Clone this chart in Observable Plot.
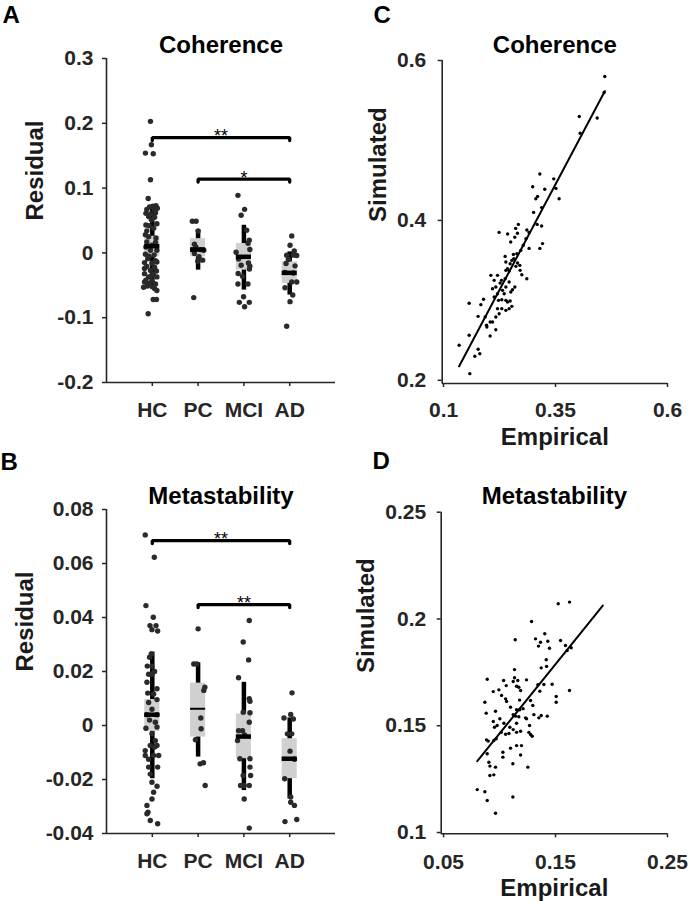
<!DOCTYPE html>
<html><head><meta charset="utf-8">
<script src="https://cdn.jsdelivr.net/npm/d3@7"></script>
<script src="https://cdn.jsdelivr.net/npm/@observablehq/plot@0.6"></script>
<style>
body{margin:0;background:#fff;}
#fig{position:relative;width:688px;height:901px;overflow:hidden;}
.panel{position:absolute;}
</style></head><body><div id="fig"></div>
<script>
const groups = ["HC", "PC", "MCI", "AD"];

// ---- Panel A: coherence residuals, [offset from group centre (group units), residual]
const cohHC = [[-0.04,0.203],[-0.02,0.167],[-0.15,0.154],[0.02,0.153],[-0.04,0.113],[-0.09,0.084],
 [-0.06,0.071],[0.01,0.072],[0.08,0.073],[0.11,0.069],[-0.12,0.067],[0.04,0.067],
 [0.07,0.062],[-0.14,0.061],[-0.04,0.06],[-0.08,0.056],[0.05,0.055],[-0.02,0.051],
 [0.10,0.045],[-0.14,0.043],[-0.07,0.042],[0.03,0.038],[-0.12,0.034],[-0.15,0.028],
 [-0.08,0.025],[0.08,0.023],[-0.12,0.017],[0.07,0.016],[-0.01,0.012],[-0.14,0.009],
 [-0.04,0.004],[0.10,0.004],[-0.07,-0.005],[-0.15,-0.002],[0.04,-0.003],[-0.10,-0.009],
 [0.07,-0.012],[-0.17,-0.015],[-0.01,-0.016],[0.10,-0.014],[-0.12,-0.021],[0.05,-0.022],
 [-0.17,-0.024],[-0.04,-0.027],[0.09,-0.028],[-0.17,-0.032],[0.02,-0.033],[-0.02,-0.035],
 [-0.08,-0.037],[0.10,-0.037],[-0.14,-0.042],[-0.01,-0.043],[-0.17,-0.045],[-0.07,-0.047],
 [0.07,-0.048],[-0.19,-0.053],[-0.11,-0.051],[-0.01,-0.052],[0.05,-0.055],[0.10,-0.058],
 [0.02,-0.072],[0.09,-0.072],[-0.09,-0.094]];
const cohPC = [[-0.125,0.0488],[-0.044,0.0488],[0,0.0338],[-0.08,0.0134],[-0.05,0.0093],[-0.117,0.005],
 [0.066,0.005],[0.125,0.004],[-0.08,-0.001],[0.02,-0.006],[0.10,-0.0112],[-0.007,-0.013],[-0.095,-0.069]];
const cohMCI = [[-0.13,0.0888],[0.015,0.0672],[-0.06,0.058],[0.06,0.0349],[0.117,0.0195],[0.09,0.015],
 [0.13,0.0052],[-0.17,0.001],[-0.117,-0.0093],[0.10,-0.0154],[-0.06,-0.019],[0.13,-0.0205],[0.12,-0.025],
 [-0.125,-0.0317],[-0.03,-0.036],[-0.13,-0.048],[0.088,-0.048],[-0.007,-0.0677],[-0.10,-0.0763],
 [0.117,-0.0763],[0.015,-0.083]];
const cohAD = [[0.044,0.0262],[0.007,0.0118],[0.10,0.003],[-0.066,-0.0035],[0.08,-0.0035],[0.154,-0.004],
 [-0.03,-0.01],[-0.08,-0.0164],[0.117,-0.02],[-0.103,-0.03],[0.08,-0.031],[0.044,-0.0448],[0.154,-0.0448],
 [-0.103,-0.0538],[0.066,-0.065],[0.007,-0.0752],[-0.066,-0.1132]];
const cohMean = [0.0103, 0.0052, -0.006, -0.0308];
const cohBoxLo = [-0.006, -0.006, -0.0266, -0.047];
const cohBoxHi = [0.0257, 0.022, 0.0145, -0.0138];
const cohSdLo = [-0.052, -0.0266, -0.0574, -0.0651];
const cohSdHi = [0.0708, 0.0355, 0.0426, 0.0016];
const cohSigFrom = ["HC", "PC"], cohSigTo = ["AD", "AD"], cohSigY = [0.178, 0.114], cohSigLabel = ["**", "*"];
const cohYTicks = [-0.2, -0.1, 0, 0.1, 0.2, 0.3];

// ---- Panel B: metastability residuals
const metaHC = [[-0.154,0.0706],[0.044,0.0623],[-0.139,0.0444],[0.022,0.0401],[-0.051,0.037],[-0.007,0.0355],
 [0.081,0.037],[0.117,0.035],[-0.022,0.0265],[-0.059,0.0253],[-0.11,0.022],[-0.007,0.022],[-0.08,0.019],
 [0.05,0.020],[-0.007,0.019],[-0.117,0.016],[0.103,0.0136],[-0.10,0.012],[0.029,0.0117],[0.103,0.0096],
 [-0.08,0.0085],[-0.007,0.006],[-0.117,0.004],[0.103,0.004],[-0.06,0.002],[0.066,0.0012],[0.103,-0.0006],
 [-0.139,-0.001],[-0.007,-0.003],[0.066,-0.0056],[-0.044,-0.0074],[0.103,-0.0074],[0.05,-0.008],
 [-0.154,-0.0093],[0.029,-0.0111],[-0.154,-0.0111],[0.139,-0.0111],[-0.08,-0.0125],[-0.08,-0.0154],
 [0.117,-0.0154],[-0.044,-0.018],[-0.007,-0.021],[0.103,-0.0225],[0.029,-0.0247],[-0.007,-0.0272],
 [-0.117,-0.0296],[-0.095,-0.0321],[-0.117,-0.0327],[-0.044,-0.0352],[0.117,-0.0364]];
const metaPC = [[0,0.0358],[-0.095,0.0228],[-0.03,0.0228],[0.147,0.0142],[0.125,0.013],[0.059,0.0028],
 [0.066,-0.0012],[-0.059,-0.0053],[0.044,-0.0142],[0.117,-0.0138],[0.154,-0.0222]];
const metaMCI = [[0.117,0.0389],[-0.015,0.0309],[0.103,0.0243],[-0.117,0.0177],[0.117,0.0099],[0.132,0.009],
 [-0.015,0.0049],[0.132,0.0047],[0.117,0.0012],[-0.117,-0.0019],[-0.03,-0.0019],[0.015,-0.0035],
 [-0.139,-0.0056],[-0.088,-0.0123],[0.132,-0.0123],[0.132,-0.0154],[-0.015,-0.0185],[0.147,-0.0185],
 [-0.073,-0.0222],[0.007,-0.0222],[0.117,-0.0222],[0.007,-0.0272],[0.117,-0.038]];
const metaAD = [[0.051,0.0121],[0.022,0.0041],[-0.125,0.0028],[0.08,0.0024],[-0.051,-0.0031],[0.044,-0.0031],
 [0.007,-0.0095],[0.103,-0.0125],[-0.11,-0.0197],[0.022,-0.0265],[0.022,-0.0284],[0.103,-0.0296],
 [-0.103,-0.0356],[0.154,-0.0348]];
const metaMean = [0.004, 0.0062, -0.0041, -0.0123];
const metaBoxLo = [-0.0022, -0.0043, -0.0123, -0.0197];
const metaBoxHi = [0.0096, 0.0157, 0.0043, -0.0049];
const metaSdLo = [-0.0197, -0.0117, -0.0241, -0.0272];
const metaSdHi = [0.0272, 0.0232, 0.016, 0.0028];
const metaSigFrom = ["HC", "PC"], metaSigTo = ["AD", "AD"], metaSigY = [0.0685, 0.0448], metaSigLabel = ["**", "**"];
const metaYTicks = [-0.04, -0.02, 0, 0.02, 0.04, 0.06, 0.08];

// ---- Panel C: coherence, [empirical, simulated]
const cohScatter = [[0.460,0.580],[0.4585,0.560],[0.403,0.530],[0.443,0.528],[0.405,0.509],
 [0.315,0.458],[0.346,0.452],[0.299,0.442],[0.326,0.439],[0.351,0.440],[0.358,0.427],[0.310,0.430],[0.306,0.427],[0.319,0.416],[0.301,0.410],
 [0.309,0.395],[0.319,0.393],[0.267,0.395],[0.261,0.390],[0.265,0.384],[0.224,0.385],[0.243,0.383],[0.286,0.388],[0.291,0.385],
 [0.259,0.379],[0.250,0.373],[0.284,0.377],[0.278,0.369],[0.321,0.371],[0.315,0.365],[0.291,0.365],[0.2725,0.3625],
 [0.256,0.3575],[0.2636,0.3583],[0.2375,0.355],[0.2525,0.350],[0.2487,0.3458],[0.2652,0.3467],[0.2703,0.3438],[0.2614,0.3425],
 [0.2429,0.3396],[0.2464,0.3367],[0.2391,0.3375],[0.271,0.3375],[0.2748,0.3321],[0.2391,0.3479],[0.2569,0.3521],
 [0.2056,0.3313],[0.213,0.325],[0.2205,0.3313],[0.2263,0.3216],[0.2859,0.3271],[0.2294,0.325],[0.2375,0.3271],[0.2464,0.3229],
 [0.2094,0.3146],[0.2167,0.3167],[0.2391,0.3167],[0.2317,0.3125],[0.254,0.3133],[0.2592,0.3167],[0.2502,0.3104],[0.2205,0.3083],[0.2354,0.3083],
 [0.213,0.3042],[0.2228,0.300],[0.2301,0.3008],[0.2391,0.300],[0.2429,0.2979],[0.2487,0.2992],
 [0.2525,0.2925],[0.2464,0.2896],[0.2391,0.2875],[0.2301,0.2896],[0.2205,0.2896],[0.2241,0.2833],[0.2167,0.2792],
 [0.1833,0.2946],[0.1893,0.3013],[0.1572,0.2963],[0.1929,0.2792],[0.1772,0.280],
 [0.196,0.2688],[0.204,0.2729],[0.2094,0.2729],[0.1967,0.2667],[0.2167,0.2633],[0.204,0.2554],[0.1572,0.2563],
 [0.1348,0.2438],[0.1772,0.2388],[0.181,0.2333],[0.1699,0.230],[0.1587,0.2083]];
const cohFitX = [0.1348, 0.46], cohFitY = [0.2175, 0.5616];
const cohEmpTicks = [0.1, 0.35, 0.6], cohSimTicks = [0.2, 0.4, 0.6];

// ---- Panel D: metastability, [empirical, simulated]
const metaScatter = [[0.1524,0.2071],[0.1625,0.2079],[0.1286,0.1988],[0.114,0.1903],[0.1404,0.1931],[0.1321,0.1907],[0.1366,0.1891],[0.1431,0.1896],[0.1348,0.1873],[0.1446,0.1863],[0.1545,0.1899],[0.1589,0.1876],[0.164,0.1865],[0.1604,0.1852],
 [0.1417,0.1809],[0.142,0.1778],[0.1372,0.1771],[0.1134,0.1763],[0.089,0.1718],[0.1036,0.1712],[0.1134,0.1725],[0.1163,0.1712],[0.1122,0.1707],[0.1241,0.1715],
 [0.0994,0.1668],[0.0944,0.166],[0.106,0.1688],[0.1152,0.1685],[0.1188,0.1665],[0.1172,0.168],
 [0.1342,0.1692],[0.1396,0.1693],[0.136,0.1662],[0.147,0.1694],
 [0.1018,0.1642],[0.1054,0.1626],[0.1063,0.1614],[0.0869,0.161],[0.1179,0.162],[0.1277,0.1618],[0.1297,0.1595],[0.1506,0.1637],[0.1506,0.161],[0.1625,0.1665],
 [0.1098,0.1587],[0.0964,0.1568],[0.0881,0.1559],[0.1152,0.1575],[0.118,0.1575],[0.121,0.158],
 [0.1122,0.1552],[0.1143,0.1545],[0.1172,0.1542],[0.1232,0.1537],
 [0.1307,0.1552],[0.1372,0.1548],[0.1351,0.1537],[0.1426,0.1545],
 [0.0944,0.152],[0.1003,0.1533],[0.1039,0.1512],[0.0979,0.1501],[0.0955,0.1493],[0.1241,0.1533],
 [0.1092,0.1493],[0.1122,0.1482],[0.1152,0.1512],[0.1152,0.1469],[0.1188,0.1474],
 [0.1015,0.1469],[0.1054,0.146],[0.1084,0.1464],
 [0.1268,0.1501],[0.1262,0.1469],[0.1277,0.1459],[0.1292,0.1451],
 [0.0884,0.1434],[0.0899,0.1428],[0.0949,0.1431],[0.097,0.1439],
 [0.089,0.1369],[0.0905,0.1329],[0.0914,0.1311],[0.0964,0.1306],
 [0.103,0.1376],[0.103,0.1353],[0.1098,0.1395],[0.1152,0.1407],[0.1196,0.1407],[0.1188,0.1363],
 [0.1119,0.1322],[0.1253,0.1306],[0.0914,0.1267],[0.0949,0.127],
 [0.0801,0.1201],[0.0869,0.1191],[0.089,0.115],[0.0964,0.109],[0.1119,0.1166]];
const metaFitX = [0.0801, 0.1922], metaFitY = [0.1334, 0.2063];
const metaEmpTicks = [0.05, 0.15, 0.25], metaSimTicks = [0.1, 0.15, 0.2, 0.25];

const FONT = "'Liberation Sans', Arial, Helvetica, sans-serif";
const AXC = "#262626";

function stripPanel(o) {
  const rows = [];
  o.pts.forEach((arr, gi) => arr.forEach(([off, v]) => rows.push({x: gi + 1 + off, y: v})));
  const stats = groups.map((g, i) => ({g, c: i + 1, mean: o.mean[i], bl: o.boxLo[i], bh: o.boxHi[i], rl: o.sdLo[i], rh: o.sdHi[i]}));
  const half = 0.165;
  const span = o.yDomain[1] - o.yDomain[0];
  const drop = span * 3 / 324;
  const brLines = [], brText = [];
  o.sigY.forEach((y, k) => {
    const a = groups.indexOf(o.sigFrom[k]) + 1, b = groups.indexOf(o.sigTo[k]) + 1;
    brLines.push({k, x: a, y: y - drop}, {k, x: a, y}, {k, x: b, y}, {k, x: b, y: y - drop});
    brText.push({x: (a + b) / 2, y, t: o.sigLabel[k]});
  });
  return Plot.plot({
    width: 344, height: o.height,
    marginLeft: 106, marginRight: 9, marginTop: o.marginTop, marginBottom: 68,
    style: {fontFamily: FONT, color: AXC, background: "transparent", overflow: "visible"},
    x: {domain: [0, 5], label: null},
    y: {domain: o.yDomain, label: null},
    marks: [
      Plot.ruleX(stats, {x: "c", y1: "rl", y2: "rh", stroke: "#000", strokeWidth: 4.5}),
      Plot.rect(stats, {x1: d => d.c - half, x2: d => d.c + half, y1: "bl", y2: "bh", fill: "#d0d0d0"}),
      Plot.dot(rows, {x: "x", y: "y", r: 2.7, fill: "#2a2a2a", stroke: "none"}),
      Plot.ruleY(stats, {y: "mean", x1: d => d.c - half, x2: d => d.c + half, stroke: "#000",
        strokeWidth: d => (d.g === o.thinMean ? 2 : 4.5)}),
      Plot.line(brLines, {x: "x", y: "y", z: "k", stroke: "#000", strokeWidth: 3.3, strokeLinejoin: "miter"}),
      Plot.text(brText, {x: "x", y: "y", text: "t", lineAnchor: "bottom", dy: 4.5, fontSize: 18, fill: "#000"}),
      Plot.ruleX([0], {stroke: AXC, strokeWidth: 1.6}),
      Plot.ruleY([o.yDomain[0]], {stroke: AXC, strokeWidth: 1.6}),
      Plot.axisY({ticks: o.yTicks, tickFormat: d => String(d), tickSize: 4, tickPadding: 9, fontSize: 21,
        fontWeight: "bold", label: null, strokeWidth: 1.5}),
      Plot.axisX({ticks: [1, 2, 3, 4], tickFormat: d => groups[d - 1], tickSize: 4, tickPadding: o.xPad,
        fontSize: 21, fontWeight: "bold", label: null, strokeWidth: 1.5}),
      Plot.text([o.title], {text: d => d, frameAnchor: "top", lineAnchor: "bottom", dy: o.titleDy,
        fontSize: 24, fontWeight: "bold", fill: "#000"}),
      Plot.text([o.letter], {text: d => d, frameAnchor: "top-left", textAnchor: "start", lineAnchor: "bottom",
        dx: o.letterDx, dy: o.letterDy, fontSize: 24, fontWeight: "bold", fill: "#000"}),
      Plot.text(["Residual"], {text: d => d, frameAnchor: "left", rotate: -90, lineAnchor: "bottom",
        dx: o.ylabDx, fontSize: 24, fontWeight: "bold", fill: "#1a1a1a"})
    ]
  });
}

function scatterPanel(o) {
  return Plot.plot({
    width: 344, height: o.height,
    marginLeft: o.marginLeft, marginRight: 21, marginTop: o.marginTop, marginBottom: o.marginBottom,
    style: {fontFamily: FONT, color: AXC, background: "transparent", overflow: "visible"},
    x: {domain: o.xDomain, label: null},
    y: {domain: o.yDomain, label: null},
    marks: [
      Plot.ruleX([o.xDomain[0]], {stroke: AXC, strokeWidth: 1.6}),
      Plot.ruleY([o.yDomain[0]], {stroke: AXC, strokeWidth: 1.6}),
      Plot.axisY({ticks: o.yTicks, tickFormat: d => String(d), tickSize: 4, tickPadding: o.yPad, fontSize: 21,
        fontWeight: "bold", label: null, strokeWidth: 1.5}),
      Plot.axisX({ticks: o.xTicks, tickFormat: d => String(d), tickSize: 4, tickPadding: o.xPad, fontSize: 21,
        fontWeight: "bold", label: null, strokeWidth: 1.5}),
      Plot.dot(o.pts, {x: d => d[0], y: d => d[1], r: 1.7, fill: "#000", stroke: "none"}),
      Plot.line(o.fitX.map((x, i) => [x, o.fitY[i]]), {x: d => d[0], y: d => d[1], stroke: "#000", strokeWidth: 2}),
      Plot.text([o.title], {text: d => d, frameAnchor: "top", lineAnchor: "bottom", dy: o.titleDy,
        fontSize: 24, fontWeight: "bold", fill: "#000"}),
      Plot.text([o.letter], {text: d => d, frameAnchor: "top-left", textAnchor: "start", lineAnchor: "bottom",
        dx: o.letterDx, dy: o.letterDy, fontSize: 24, fontWeight: "bold", fill: "#000"}),
      Plot.text(["Simulated"], {text: d => d, frameAnchor: "left", rotate: -90, lineAnchor: "bottom",
        dx: o.ylabDx, fontSize: 24, fontWeight: "bold", fill: "#1a1a1a"}),
      Plot.text(["Empirical"], {text: d => d, frameAnchor: "bottom", lineAnchor: "bottom",
        dy: o.xlabDy, fontSize: 24, fontWeight: "bold", fill: "#1a1a1a"})
    ]
  });
}

const fig = document.getElementById("fig");
function place(node, left, top) {
  const d = document.createElement("div");
  d.className = "panel";
  d.style.left = left + "px";
  d.style.top = top + "px";
  d.appendChild(node);
  fig.appendChild(d);
}

place(stripPanel({
  pts: [cohHC, cohPC, cohMCI, cohAD], mean: cohMean, boxLo: cohBoxLo, boxHi: cohBoxHi, sdLo: cohSdLo, sdHi: cohSdHi,
  sigFrom: cohSigFrom, sigTo: cohSigTo, sigY: cohSigY, sigLabel: cohSigLabel,
  yDomain: [-0.2, 0.3], yTicks: cohYTicks, height: 450, marginTop: 58, xPad: 16,
  title: "Coherence", titleDy: -6, letter: "A", letterDx: -104, letterDy: -36, ylabDx: -64, thinMean: null
}), 0, 0);

place(stripPanel({
  pts: [metaHC, metaPC, metaMCI, metaAD], mean: metaMean, boxLo: metaBoxLo, boxHi: metaBoxHi, sdLo: metaSdLo, sdHi: metaSdHi,
  sigFrom: metaSigFrom, sigTo: metaSigTo, sigY: metaSigY, sigLabel: metaSigLabel,
  yDomain: [-0.04, 0.08], yTicks: metaYTicks, height: 451, marginTop: 59, xPad: 16,
  title: "Metastability", titleDy: -6, letter: "B", letterDx: -106, letterDy: -40, ylabDx: -74, thinMean: "PC"
}), 0, 450);

place(scatterPanel({
  pts: cohScatter, fitX: cohFitX, fitY: cohFitY,
  xDomain: [0.097, 0.6], yDomain: [0.196, 0.6], xTicks: cohEmpTicks, yTicks: cohSimTicks,
  height: 450, marginLeft: 97.7, marginTop: 60, marginBottom: 67, yPad: 12, xPad: 15,
  title: "Coherence", titleDy: -8, letter: "C", letterDx: -68.7, letterDy: -38, ylabDx: -56, xlabDy: 61
}), 344, 0);

place(scatterPanel({
  pts: metaScatter, fitX: metaFitX, fitY: metaFitY,
  xDomain: [0.0479, 0.25], yDomain: [0.0994, 0.25], xTicks: metaEmpTicks, yTicks: metaSimTicks,
  height: 451, marginLeft: 96.7, marginTop: 61.7, marginBottom: 67.7, yPad: 11, xPad: 16,
  title: "Metastability", titleDy: -8, letter: "D", letterDx: -68.7, letterDy: -43, ylabDx: -67, xlabDy: 62
}), 344, 450);
</script></body></html>
